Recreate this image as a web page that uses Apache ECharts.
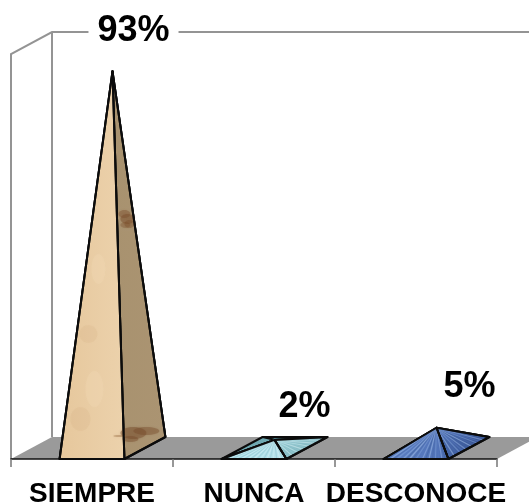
<!DOCTYPE html>
<html>
<head>
<meta charset="utf-8">
<style>html,body{margin:0;padding:0;background:#fff}#chart{width:529px;height:504px}</style>
<script src="https://cdn.jsdelivr.net/npm/echarts@6/dist/echarts.min.js"></script>
</head>
<body>
<div id="chart"></div>
<script>
// Survey answers shown as 3D pyramids
const categories = ['SIEMPRE', 'NUNCA', 'DESCONOCE'];
const percentages = [93, 2, 5];
const axisMax = 100;

// Face colours per pyramid: back, left, right, front, and streak tints
const facePalettes = [
  { back: '#a8916f', left: '#c9ab82', right: ['#a8926f', '#ab9472'], front: ['#e6c79c', '#ecd2ac'], streaks: [] },
  { back: '#4f8790', left: '#6fa9b2', right: ['#8cc3cb', '#7fb2ba'], front: ['#a6dbe6', '#b8e4ec'], streaks: ['#c9edf3', '#8fc4cf', '#d5f1f6', '#98ccd6'] },
  { back: '#34508e', left: '#3f5d9c', right: ['#4a6cb0', '#35508f'], front: ['#6488c8', '#4c6eb4'], streaks: ['#8fadde', '#42629f', '#a3bee6', '#4a6aaa', '#7c9cd6', '#5577bb'] }
];

// Depth of the floor in the oblique projection
const depthX = 41;
const depthY = -22;
const pyramidShare = 0.4;
const edgeColor = '#0c0c0c';
const wallColor = '#949494';
const floorColor = '#9a9a9a';

// Where each percentage caption sits relative to its apex
const captionOffsets = [[21, -40], [30, -33], [33, -41]];

// Blemishes on the sandy texture: [dx, dy from the front-right base corner, rx, ry, colour]
const sandMarks = [
  [0, -245, 6, 4, 'rgba(122,78,44,0.4)'],
  [3, -240, 7, 5, 'rgba(122,78,44,0.45)'],
  [1, -234, 5, 3, 'rgba(122,78,44,0.35)'],
  [5, -235, 5, 4, 'rgba(122,78,44,0.35)'],
  [9, -26, 13, 6, 'rgba(118,76,42,0.45)'],
  [22, -28, 13, 4, 'rgba(118,76,42,0.4)'],
  [6, -20, 8, 3, 'rgba(118,76,42,0.4)'],
  [-5, -23, 6, 1, 'rgba(150,105,65,0.4)'],
  [-36, -125, 9, 9, 'rgba(205,165,118,0.14)'],
  [-44, -40, 10, 12, 'rgba(205,165,118,0.14)'],
  [-26, -190, 7, 15, 'rgba(247,226,196,0.18)'],
  [-30, -70, 9, 18, 'rgba(247,226,196,0.18)']
];

function lerp(a, b, t) {
  return [a[0] + (b[0] - a[0]) * t, a[1] + (b[1] - a[1]) * t];
}

function face(points, fill, z2) {
  return {
    type: 'polygon',
    z2: z2,
    shape: { points: points },
    style: { fill: fill, stroke: edgeColor, lineWidth: 2, lineJoin: 'round' }
  };
}

function vGradient(colors) {
  return {
    type: 'linear', x: 0, y: 0, x2: 1, y2: 0,
    colorStops: [{ offset: 0, color: colors[0] }, { offset: 1, color: colors[1] }]
  };
}

// Fans of thin lines from the apex to a base edge give the brushed look
function streaks(apex, from, to, tints, count, z2) {
  const out = [];
  for (let i = 1; i < count; i++) {
    const end = lerp(from, to, i / count);
    out.push({
      type: 'line',
      z2: z2,
      shape: { x1: apex[0], y1: apex[1], x2: end[0], y2: end[1] },
      style: { stroke: tints[i % tints.length], lineWidth: 1.2, opacity: 0.55 }
    });
  }
  return out;
}

function renderRoom(params) {
  const c = params.coordSys;
  const left = c.x, right = c.x + c.width, top = c.y, bottom = c.y + c.height;
  const lineStyle = { stroke: wallColor, lineWidth: 2, fill: 'none' };
  return {
    type: 'group',
    children: [
      { type: 'polygon', shape: { points: [[left, bottom], [left + depthX, bottom + depthY], [right + depthX, bottom + depthY], [right, bottom]] }, style: { fill: floorColor } },
      { type: 'polyline', shape: { points: [[left, bottom], [left, top], [left + depthX, top + depthY], [right + depthX, top + depthY]] }, style: lineStyle },
      { type: 'line', shape: { x1: left + depthX, y1: top + depthY, x2: left + depthX, y2: bottom + depthY }, style: lineStyle }
    ]
  };
}

function renderPyramid(params, api) {
  const i = api.value(0);
  const base = api.coord([i, 0]);
  const top = api.coord([i, api.value(1)]);
  const half = api.size([1, 0])[0] * pyramidShare / 2;
  const rise = base[1] - top[1];
  const palette = facePalettes[i];

  const fl = [base[0] - half, base[1]];
  const fr = [base[0] + half, base[1]];
  const br = [fr[0] + depthX, fr[1] + depthY];
  const bl = [fl[0] + depthX, fl[1] + depthY];
  const apex = [base[0] + depthX / 2, base[1] + depthY / 2 - rise];

  const children = [
    face([bl, br, apex], palette.back, 1),
    face([fl, bl, apex], palette.left, 2),
    face([fr, br, apex], vGradient(palette.right), 3),
    face([fl, fr, apex], vGradient(palette.front), 6)
  ];

  const outline = { fill: 'none', stroke: edgeColor, lineWidth: 2, lineJoin: 'round' };
  if (palette.streaks.length) {
    children.push.apply(children, streaks(apex, fr, br, palette.streaks, 14, 4));
    children.push.apply(children, streaks(apex, fl, fr, palette.streaks, 20, 7));
    children.push({ type: 'polygon', z2: 8, shape: { points: [fr, br, apex] }, style: outline });
    children.push({ type: 'polygon', z2: 8, shape: { points: [fl, fr, apex] }, style: outline });
  } else {
    sandMarks.forEach(function (m) {
      children.push({
        type: 'ellipse',
        z2: 7,
        shape: { cx: fr[0] + m[0], cy: fr[1] + m[1], rx: m[2], ry: m[3] },
        style: { fill: m[4], shadowBlur: 3, shadowColor: m[4] }
      });
    });
    children.push({ type: 'line', z2: 8, shape: { x1: fr[0], y1: fr[1], x2: apex[0], y2: apex[1] }, style: { stroke: edgeColor, lineWidth: 2 } });
    children.push({ type: 'polygon', z2: 8, shape: { points: [fl, fr, br, apex] }, style: outline });
  }

  const off = captionOffsets[i];
  children.push({
    type: 'text',
    z2: 20,
    x: apex[0] + off[0],
    y: apex[1] + off[1],
    style: {
      text: api.value(1) + '%',
      fill: '#000',
      font: 'bold 36px "Liberation Sans", Arial, sans-serif',
      align: 'center',
      verticalAlign: 'middle',
      backgroundColor: '#fff',
      padding: [0, 9]
    }
  });

  return { type: 'group', children: children };
}

const chart = echarts.init(document.getElementById('chart'), null, { renderer: 'canvas' });
chart.setOption({
  animation: false,
  backgroundColor: '#fff',
  grid: { left: 11, right: 32, top: 54, bottom: 45, containLabel: false, outerBoundsMode: 'none' },
  xAxis: {
    type: 'category',
    data: categories,
    axisLine: { lineStyle: { color: '#111', width: 1.5 } },
    axisTick: { show: true, length: 8, alignWithLabel: false, lineStyle: { color: '#777', width: 1.5 } },
    axisLabel: {
      interval: 0,
      margin: 21,
      color: '#000',
      fontFamily: '"Liberation Sans", Arial, sans-serif',
      fontWeight: 'bold',
      fontSize: 28
    }
  },
  yAxis: { type: 'value', min: 0, max: axisMax, show: false },
  series: [
    { type: 'custom', z: -1, silent: true, clip: false, renderItem: renderRoom, data: [[0, 0]] },
    {
      type: 'custom',
      z: 3,
      clip: false,
      renderItem: renderPyramid,
      encode: { x: 0, y: 1 },
      data: categories.map(function (c, i) { return [i, percentages[i]]; })
    }
  ]
});
</script>
</body>
</html>
